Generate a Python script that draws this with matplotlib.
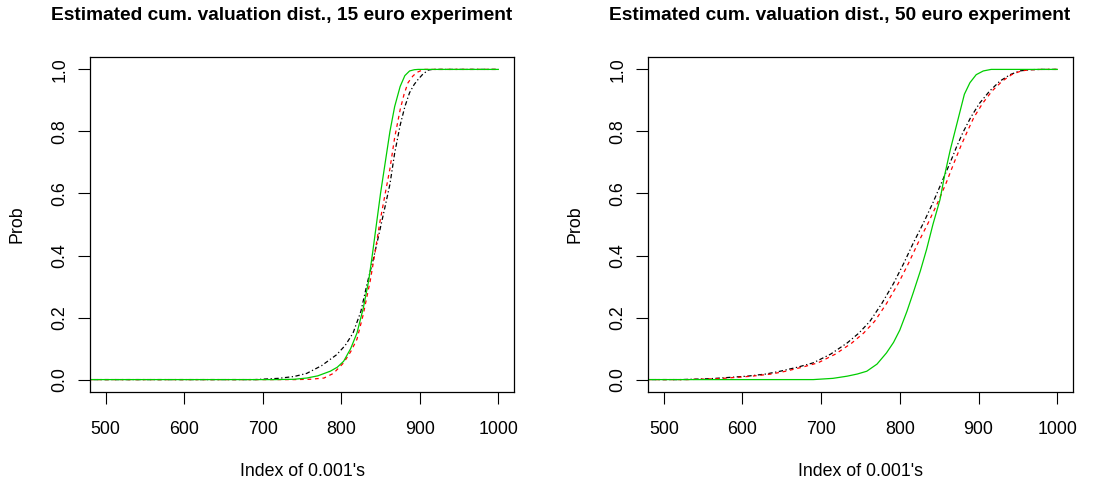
import matplotlib
matplotlib.use("Agg")
import matplotlib.pyplot as plt

plt.rcParams['font.family'] = ['Liberation Sans', 'DejaVu Sans']

# 15 euro experiment
x15_black = [480, 690, 720, 740, 756, 775, 794, 805, 815, 825, 833, 841, 849, 856, 862, 868, 875, 881, 887, 893, 898, 904, 911, 916, 1000]
y15_black = [0, 0, 0.004, 0.01, 0.02, 0.045, 0.08, 0.11, 0.15, 0.22, 0.31, 0.39, 0.48, 0.56, 0.63, 0.73, 0.82, 0.88, 0.925, 0.952, 0.968, 0.985, 0.998, 1, 1]
x15_red = [480, 740, 760, 778, 790, 803, 812, 820, 828, 837, 843, 849, 856, 862, 868, 875, 880, 885, 891, 896, 905, 1000]
y15_red = [0, 0, 0.001, 0.005, 0.02, 0.054, 0.09, 0.13, 0.21, 0.32, 0.41, 0.505, 0.6, 0.68, 0.78, 0.87, 0.92, 0.957, 0.978, 0.99, 1, 1]
x15_green = [480, 715, 740, 756, 770, 786, 795, 803, 812, 820, 828, 835, 840, 845, 850, 856, 862, 868, 875, 881, 887, 893, 898, 1000]
y15_green = [0, 0, 0.001, 0.005, 0.012, 0.027, 0.04, 0.059, 0.1, 0.15, 0.23, 0.32, 0.41, 0.505, 0.6, 0.7, 0.8, 0.88, 0.945, 0.98, 0.995, 0.999, 1, 1]

# 50 euro experiment
x50_black = [480, 522, 560, 606, 630, 648, 670, 690, 712, 733, 748, 762, 777, 792, 805, 817, 830, 842, 853, 864, 872, 880, 890, 901, 914, 927, 940, 952, 965, 980, 1000]
y50_black = [0, 0, 0.003, 0.011, 0.018, 0.027, 0.04, 0.054, 0.082, 0.118, 0.15, 0.188, 0.245, 0.31, 0.375, 0.44, 0.505, 0.57, 0.635, 0.70, 0.75, 0.796, 0.845, 0.89, 0.93, 0.962, 0.983, 0.995, 0.999, 1, 1]
x50_red = [480, 530, 570, 612, 637, 655, 676, 696, 718, 739, 754, 768, 783, 798, 811, 823, 836, 848, 859, 869, 877, 885, 894, 905, 917, 930, 942, 954, 966, 980, 1000]
y50_red = [0, 0, 0.003, 0.011, 0.018, 0.027, 0.04, 0.054, 0.082, 0.118, 0.15, 0.188, 0.245, 0.31, 0.375, 0.44, 0.505, 0.57, 0.635, 0.70, 0.75, 0.796, 0.845, 0.89, 0.93, 0.962, 0.983, 0.995, 0.999, 1, 1]
x50_green = [480, 690, 715, 733, 746, 758, 771, 783, 792, 800, 809, 817, 826, 834, 842, 851, 857, 864, 870, 876, 882, 889, 897, 906, 916, 1000]
y50_green = [0, 0, 0.004, 0.011, 0.018, 0.027, 0.05, 0.086, 0.12, 0.16, 0.22, 0.28, 0.35, 0.42, 0.5, 0.58, 0.66, 0.74, 0.80, 0.86, 0.92, 0.957, 0.983, 0.995, 1, 1]

xticks = [500, 600, 700, 800, 900, 1000]
yticks = [0.0, 0.2, 0.4, 0.6, 0.8, 1.0]
titles = ["Estimated cum. valuation dist., 15 euro experiment",
          "Estimated cum. valuation dist., 50 euro experiment"]

fig = plt.figure(figsize=(11.2, 4.84), dpi=100)
W, H = 1120, 484
ax1 = fig.add_axes([90 / W, 1 - 392 / H, 424 / W, 335 / H])
ax2 = fig.add_axes([648 / W, 1 - 392 / H, 425 / W, 335 / H])

fs = 12.8
panels = [
    (ax1, (x15_black, y15_black), (x15_red, y15_red), (x15_green, y15_green), titles[0]),
    (ax2, (x50_black, y50_black), (x50_red, y50_red), (x50_green, y50_green), titles[1]),
]
for ax, blk, red, grn, title in panels:
    ax.plot(blk[0], blk[1], color='black', lw=0.9, linestyle=(0, (1, 2, 3.5, 2)))
    ax.plot(red[0], red[1], color='red', lw=0.9, linestyle=(0, (3, 3)))
    ax.plot(grn[0], grn[1], color='#00cd00', lw=0.9)
    ax.set_xlim(480, 1020)
    ax.set_ylim(-0.04, 1.04)
    ax.set_xticks(xticks)
    ax.set_xticklabels([str(v) for v in xticks], fontsize=fs)
    ax.set_yticks(yticks)
    ax.set_yticklabels([f"{v:.1f}" for v in yticks], fontsize=fs, rotation=90, va='center')
    ax.tick_params(direction='out', length=8.5, width=0.8, pad=12.5)
    ax.tick_params(axis='y', pad=7)
    for s in ax.spines.values():
        s.set_linewidth(0.9)
    ax.set_xlabel("Index of 0.001's", fontsize=fs, labelpad=18)
    ax.set_ylabel("Prob", fontsize=fs, labelpad=19)
    ax.text(0.451, 1.0 - (16 - 57) / 335, title, transform=ax.transAxes,
            ha='center', va='center', fontsize=13.8, fontweight='bold')

fig.savefig("out.png", dpi=100)
